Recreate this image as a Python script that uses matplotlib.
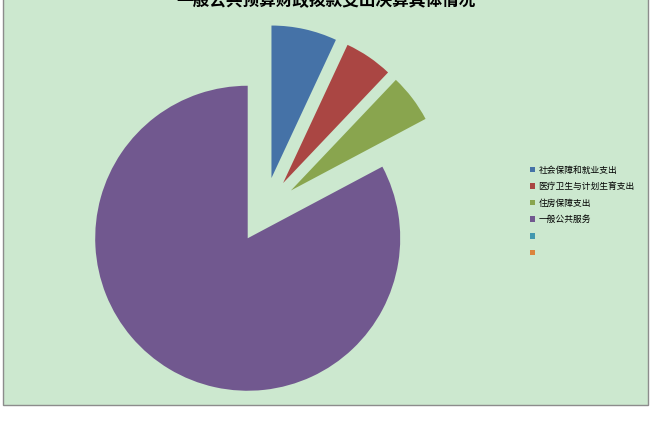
import matplotlib
import numpy as np

matplotlib.use("Agg")
import matplotlib.pyplot as plt
from matplotlib.patches import Rectangle

plt.rcParams["font.family"] = ["Noto Sans CJK SC", "DejaVu Sans"]

title = "一般公共预算财政拨款支出决算具体情况"
labels = ["社会保障和就业支出", "医疗卫生与计划生育支出", "住房保障支出", "一般公共服务", "", ""]
values = [25, 18.5, 18.5, 298, 0, 0]
colors = ["#4572A7", "#AA4643", "#89A54E", "#71588F", "#4198AF", "#DB843D"]
explode = [0.22, 0.22, 0.22, 0.21, 0, 0]

W, H = 652, 429
R = 152.5
fig = plt.figure(figsize=(W / 100, H / 100), dpi=100)

# chart area background
fig.patches.append(Rectangle((3 / W, 1 - 405 / H), 645 / W, 405 / H + 0.01,
                             transform=fig.transFigure, facecolor="#CCE8CF",
                             edgecolor="#8C8C8C", linewidth=1, zorder=-5))

ax = fig.add_axes([0, 0, 1, 1])
ax.set_zorder(2)
ax.patch.set_visible(False)

# pie explode is in data units, so scale by radius
wedges, _ = ax.pie(values, colors=colors, explode=[e * R for e in explode],
                   startangle=90, counterclock=False, center=(264.2, H - 210.8),
                   radius=R, wedgeprops={"linewidth": 0})
ax.set_xlim(0, W)
ax.set_ylim(0, H)
ax.set_aspect("equal")
ax.axis("off")

fig.text(326 / W, 1 - 1 / H, title, ha="center", va="center",
         fontsize=12, fontweight="bold", color="black", zorder=3)

ax.legend(wedges, labels, loc="upper left", bbox_to_anchor=(530 / W, 1 - 165.5 / H),
          bbox_transform=fig.transFigure, frameon=False, fontsize=6.3,
          handlelength=0.6, handleheight=0.6, handletextpad=0.35,
          labelspacing=0.87, borderpad=0, borderaxespad=0)

fig.savefig("out.png", dpi=100)
